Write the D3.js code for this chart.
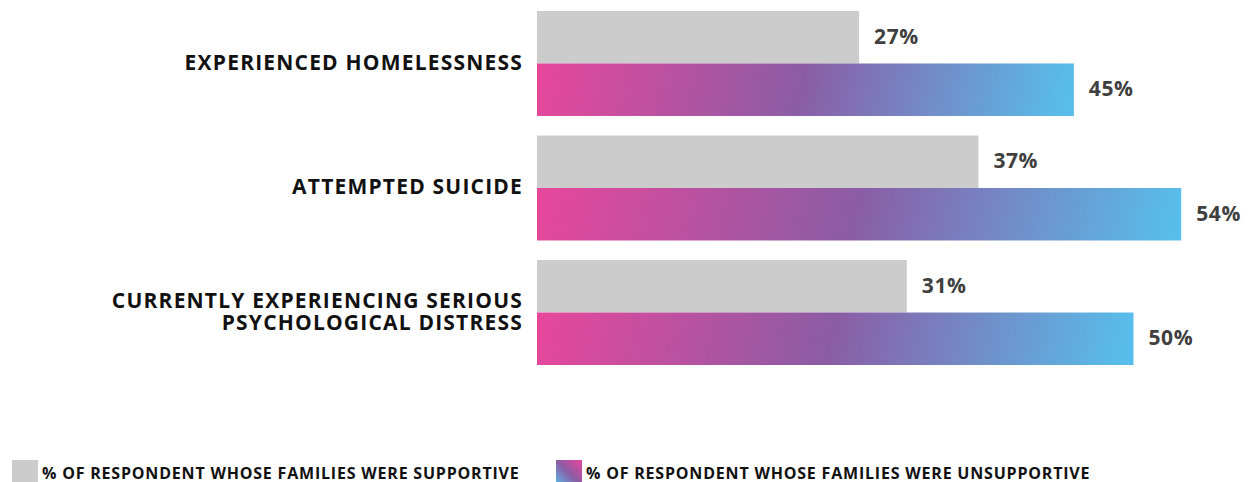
<!DOCTYPE html>
<html>
<head>
<meta charset="utf-8">
<script src="https://cdn.jsdelivr.net/npm/d3@7"></script>
<style>
  html, body { margin: 0; padding: 0; background: #ffffff; }
  svg { display: block; }
  text { font-family: "Open Sans", "Noto Sans", sans-serif; font-weight: 700; }
</style>
</head>
<body>
<svg id="chart" width="1248" height="482"></svg>
<script>
// ---- data ----
const categories = [
  ["EXPERIENCED HOMELESSNESS"],
  ["ATTEMPTED SUICIDE"],
  ["CURRENTLY EXPERIENCING SERIOUS", "PSYCHOLOGICAL DISTRESS"]
];
const supportive = [27, 37, 31];
const unsupportive = [45, 54, 50];
const seriesNames = [
  "% OF RESPONDENT WHOSE FAMILIES WERE SUPPORTIVE",
  "% OF RESPONDENT WHOSE FAMILIES WERE UNSUPPORTIVE"
];

// ---- setup ----
const svg = d3.select("#chart");
const defs = svg.append("defs");

const barGrad = defs.append("linearGradient")
  .attr("id", "barGrad")
  .attr("x1", "0").attr("y1", "0").attr("x2", "1").attr("y2", "0.02");
[["0%", "#e8479b"], ["50%", "#8b5ca5"], ["100%", "#58bdea"]].forEach(([o, c]) =>
  barGrad.append("stop").attr("offset", o).attr("stop-color", c));

const swGrad = defs.append("linearGradient")
  .attr("id", "swGrad")
  .attr("x1", "1").attr("y1", "0").attr("x2", "0").attr("y2", "1");
[["0%", "#e8479b"], ["50%", "#8b5ca5"], ["100%", "#58bdea"]].forEach(([o, c]) =>
  swGrad.append("stop").attr("offset", o).attr("stop-color", c));

const x0 = 537;
const x = d3.scaleLinear().domain([0, 100]).range([x0, x0 + 1193]);

const idx = categories.map((d, i) => i);
const y = d3.scaleBand().domain(idx).range([11, 365]).paddingInner(0.157).paddingOuter(0);
const sub = d3.scaleBand().domain([0, 1]).range([0, y.bandwidth()]);

const g = svg.append("g");

// supportive bars
g.selectAll(".bar-s").data(idx).join("rect")
  .attr("class", "bar-s")
  .attr("x", x(0))
  .attr("y", i => y(i) + sub(0))
  .attr("width", i => x(supportive[i]) - x(0))
  .attr("height", sub.bandwidth())
  .attr("fill", "#cccccc");

// unsupportive bars
g.selectAll(".bar-u").data(idx).join("rect")
  .attr("class", "bar-u")
  .attr("x", x(0))
  .attr("y", i => y(i) + sub(1))
  .attr("width", i => x(unsupportive[i]) - x(0))
  .attr("height", sub.bandwidth())
  .attr("fill", "url(#barGrad)");

// value labels
const valLabel = (arr, s) => g.selectAll(".val-" + s).data(idx).join("text")
  .attr("class", "val-" + s)
  .attr("x", i => x(arr[i]) + 15)
  .attr("y", i => y(i) + sub(s) + sub.bandwidth() / 2 - 1)
  .attr("dy", "0.35em")
  .attr("font-size", 21)
  .attr("letter-spacing", 0.6)
  .attr("fill", "#404040")
  .text(i => arr[i] + "%");
valLabel(supportive, 0);
valLabel(unsupportive, 1);

// category labels
const lab = g.selectAll(".cat").data(idx).join("text")
  .attr("class", "cat")
  .attr("text-anchor", "end")
  .attr("font-size", 21)
  .attr("letter-spacing", 1.2)
  .attr("fill", "#111111");
lab.each(function(i) {
  const lines = categories[i];
  const lh = 22.5;
  const cy = y(i) + y.bandwidth() / 2 - 1;
  d3.select(this).selectAll("tspan").data(lines).join("tspan")
    .attr("x", 523)
    .attr("y", (d, k) => cy + (k - (lines.length - 1) / 2) * lh)
    .attr("dy", "0.35em")
    .text(d => d);
});

// legend
const legend = svg.append("g");
const legItems = [
  { name: seriesNames[0], fill: "#cccccc", x: 12 },
  { name: seriesNames[1], fill: "url(#swGrad)", x: 556 }
];
legItems.forEach(it => {
  legend.append("rect").attr("x", it.x).attr("y", 460).attr("width", 26).attr("height", 26).attr("fill", it.fill);
  legend.append("text").attr("x", it.x + 30).attr("y", 479)
    .attr("font-size", 16).attr("letter-spacing", 0.8).attr("fill", "#111111").text(it.name);
});
</script>
</body>
</html>
